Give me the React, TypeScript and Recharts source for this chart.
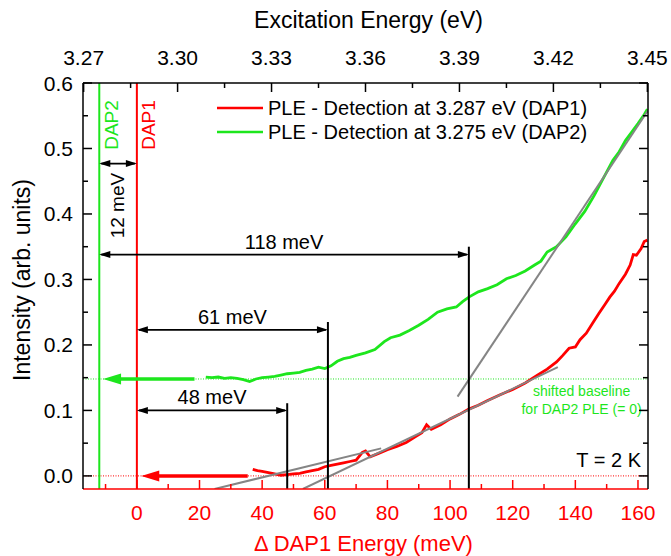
import React from 'react';
import {
  ComposedChart,
  Line,
  XAxis,
  YAxis,
  ReferenceLine,
  ReferenceDot,
  Legend,
} from 'recharts';

const RED = '#ff0000';
const GREEN = '#1de61d';
const GRAY = '#858585';
const FONT = '"Liberation Sans", Arial, sans-serif';

// detection energy of DAP1 (eV); bottom axis is the offset from it in meV
const DAP1_EV = 3.287;
const DAP2_OFFSET = -12;

const X_DOMAIN: [number, number] = [-17.2, 163.2];
const Y_DOMAIN: [number, number] = [-0.02, 0.6];
const TOP_DOMAIN: [number, number] = [DAP1_EV + X_DOMAIN[0] / 1000, DAP1_EV + X_DOMAIN[1] / 1000];

const X_TICKS = [-10, 0, 10, 20, 30, 40, 50, 60, 70, 80, 90, 100, 110, 120, 130, 140, 150, 160];
const TOP_TICKS = [3.27, 3.285, 3.3, 3.315, 3.33, 3.345, 3.36, 3.375, 3.39, 3.405, 3.42, 3.435, 3.45];
const Y_TICKS = [0, 0.05, 0.1, 0.15, 0.2, 0.25, 0.3, 0.35, 0.4, 0.45, 0.5, 0.55, 0.6];

// PLE detected at 3.287 eV (DAP1): e = meV, i = intensity
const dap1Ple = [
  { e: 37, i: 0.01 }, { e: 38.5, i: 0.008 }, { e: 40, i: 0.007 }, { e: 42, i: 0.005 },
  { e: 44, i: 0.003 }, { e: 46, i: 0.001 }, { e: 48, i: 0.002 }, { e: 50, i: 0.003 },
  { e: 52, i: 0.004 }, { e: 54, i: 0.006 }, { e: 56, i: 0.008 }, { e: 58, i: 0.01 },
  { e: 60, i: 0.014 }, { e: 62, i: 0.016 }, { e: 64, i: 0.018 }, { e: 66, i: 0.02 },
  { e: 68, i: 0.022 }, { e: 70, i: 0.024 }, { e: 72, i: 0.036 }, { e: 73, i: 0.038 },
  { e: 74.5, i: 0.029 }, { e: 77, i: 0.034 }, { e: 80, i: 0.04 }, { e: 83, i: 0.045 },
  { e: 86, i: 0.051 }, { e: 89, i: 0.06 }, { e: 91, i: 0.066 }, { e: 92.5, i: 0.078 },
  { e: 94, i: 0.071 }, { e: 97, i: 0.078 }, { e: 100, i: 0.087 }, { e: 103, i: 0.094 },
  { e: 106, i: 0.102 }, { e: 109, i: 0.108 }, { e: 112, i: 0.115 }, { e: 116, i: 0.124 },
  { e: 120, i: 0.132 }, { e: 124, i: 0.142 }, { e: 128, i: 0.154 }, { e: 131, i: 0.163 },
  { e: 134, i: 0.174 }, { e: 136, i: 0.184 }, { e: 138, i: 0.195 }, { e: 140, i: 0.197 },
  { e: 141.5, i: 0.208 }, { e: 143.5, i: 0.218 }, { e: 145.5, i: 0.233 }, { e: 147.5, i: 0.248 },
  { e: 149.5, i: 0.262 }, { e: 151, i: 0.273 }, { e: 152.5, i: 0.282 }, { e: 154, i: 0.294 },
  { e: 156, i: 0.308 }, { e: 157.5, i: 0.322 }, { e: 158.5, i: 0.338 }, { e: 159.5, i: 0.337 },
  { e: 161, i: 0.347 }, { e: 162, i: 0.358 }, { e: 163, i: 0.36 },
];

// PLE detected at 3.275 eV (DAP2), plotted on a baseline shifted to 0.148
const dap2Ple = [
  { e: 22, i: 0.151 }, { e: 24, i: 0.15 }, { e: 26, i: 0.151 }, { e: 28, i: 0.149 },
  { e: 30, i: 0.15 }, { e: 32, i: 0.149 }, { e: 34, i: 0.147 }, { e: 36, i: 0.144 },
  { e: 38, i: 0.148 }, { e: 40, i: 0.15 }, { e: 42, i: 0.151 }, { e: 44, i: 0.152 },
  { e: 46, i: 0.154 }, { e: 48, i: 0.156 }, { e: 50, i: 0.157 }, { e: 52, i: 0.158 },
  { e: 54, i: 0.161 }, { e: 56, i: 0.163 }, { e: 58, i: 0.166 }, { e: 60, i: 0.164 },
  { e: 62, i: 0.168 }, { e: 64, i: 0.175 }, { e: 66, i: 0.179 }, { e: 68, i: 0.181 },
  { e: 70, i: 0.184 }, { e: 73, i: 0.188 }, { e: 76, i: 0.193 }, { e: 79, i: 0.205 },
  { e: 81, i: 0.211 }, { e: 84, i: 0.215 }, { e: 87, i: 0.222 }, { e: 90, i: 0.23 },
  { e: 93, i: 0.239 }, { e: 96, i: 0.25 }, { e: 99, i: 0.255 }, { e: 102, i: 0.258 },
  { e: 104, i: 0.266 }, { e: 106, i: 0.273 }, { e: 109, i: 0.281 }, { e: 112, i: 0.286 },
  { e: 115, i: 0.292 }, { e: 118, i: 0.301 }, { e: 121, i: 0.306 }, { e: 124, i: 0.313 },
  { e: 127, i: 0.322 }, { e: 129, i: 0.328 }, { e: 131, i: 0.342 }, { e: 134, i: 0.35 },
  { e: 137, i: 0.365 }, { e: 140, i: 0.385 }, { e: 143, i: 0.404 }, { e: 146, i: 0.428 },
  { e: 149, i: 0.455 }, { e: 152, i: 0.482 }, { e: 154, i: 0.495 }, { e: 156, i: 0.512 },
  { e: 158, i: 0.525 }, { e: 160, i: 0.538 }, { e: 162, i: 0.552 }, { e: 163, i: 0.56 },
];

// linear onset fits
const fitDap1Low = [{ e: 24.8, i: -0.02 }, { e: 78, i: 0.042 }];
const fitDap1High = [{ e: 53, i: -0.02 }, { e: 134.4, i: 0.166 }];
const fitDap2 = [{ e: 102.4, i: 0.121 }, { e: 163.2, i: 0.558 }];

// end points of the excitation energy scale, so the top axis has something bound to it
const topAxisSpan = [{ ev: TOP_DOMAIN[0], i: null }, { ev: TOP_DOMAIN[1], i: null }];

const DAP2_BASELINE = 0.148;

const legendItems = [
  { label: 'PLE - Detection at 3.287 eV (DAP1)', color: RED },
  { label: 'PLE - Detection at 3.275 eV (DAP2)', color: GREEN },
];

// double-headed dimension arrows
const dimensions = [
  { from: DAP2_OFFSET, to: 0, y: 0.477, text: '12 meV', rotated: true },
  { from: DAP2_OFFSET, to: 106, y: 0.338, text: '118 meV', rotated: false },
  { from: 0, to: 61, y: 0.223, text: '61 meV', rotated: false },
  { from: 0, to: 48, y: 0.1, text: '48 meV', rotated: false },
];

// vertical onset markers
const markers = [
  { e: 48, top: 0.111 },
  { e: 61, top: 0.235 },
  { e: 106, top: 0.35 },
];

// baseline arrows pointing to the matching curve's zero
const baselineArrows = [
  { from: 18.4, to: -10.8, y: DAP2_BASELINE, color: GREEN },
  { from: 35.4, to: 1.4, y: 0, color: RED },
];

const BottomTick = (props: any) => {
  const { x, y, payload } = props;
  const v = payload.value;
  const major = v % 20 === 0;
  return (
    <g>
      <line x1={x} x2={x} y1={y} y2={y - (major ? 9 : 5)} stroke={RED} strokeWidth={1.5} />
      {major && v >= 0 && (
        <text x={x} y={y + 31} textAnchor="middle" fill={RED} fontSize={21} fontFamily={FONT}>
          {v}
        </text>
      )}
    </g>
  );
};

const TopTick = (props: any) => {
  const { x, y, payload } = props;
  const v = payload.value;
  const major = Math.round((v - 3.27) / 0.015) % 2 === 0;
  return (
    <g>
      <line x1={x} x2={x} y1={y} y2={y + (major ? 9 : 5)} stroke="#000" strokeWidth={1.5} />
      {major && (
        <text x={x} y={y - 18} textAnchor="middle" fill="#000" fontSize={21} fontFamily={FONT}>
          {v.toFixed(2)}
        </text>
      )}
    </g>
  );
};

const LeftTick = (props: any) => {
  const { x, y, payload } = props;
  const v = payload.value;
  const major = Math.round(v * 100) % 10 === 0;
  return (
    <g>
      <line x1={x} x2={x + (major ? 9 : 5)} y1={y} y2={y} stroke="#000" strokeWidth={1.5} />
      {major && (
        <text x={x - 10} y={y + 7.5} textAnchor="end" fill="#000" fontSize={21} fontFamily={FONT}>
          {v.toFixed(1)}
        </text>
      )}
    </g>
  );
};

const RightTick = (props: any) => {
  const { x, y, payload } = props;
  const major = Math.round(payload.value * 100) % 10 === 0;
  return <line x1={x} x2={x - (major ? 9 : 5)} y1={y} y2={y} stroke="#000" strokeWidth={1.5} />;
};

const dimensionShape = (text: string, rotated: boolean) => (p: any) => {
  const { x1, y1, x2 } = p;
  const left = Math.min(x1, x2);
  const right = Math.max(x1, x2);
  const L = 11;
  const H = 3.5;
  const mid = (left + right) / 2;
  return (
    <g>
      <line x1={left + 2} x2={right - 2} y1={y1} y2={y1} stroke="#000" strokeWidth={1.8} />
      <polygon points={`${left},${y1} ${left + L},${y1 - H} ${left + L},${y1 + H}`} fill="#000" />
      <polygon points={`${right},${y1} ${right - L},${y1 - H} ${right - L},${y1 + H}`} fill="#000" />
      {rotated ? (
        <text
          x={mid - 1}
          y={y1 + 42}
          transform={`rotate(-90 ${mid - 1} ${y1 + 42})`}
          textAnchor="middle"
          dominantBaseline="central"
          fontSize={19}
          fontFamily={FONT}
          fill="#000"
        >
          {text}
        </text>
      ) : (
        <text x={mid} y={y1 - 6} textAnchor="middle" fontSize={20} fontFamily={FONT} fill="#000">
          {text}
        </text>
      )}
    </g>
  );
};

const bigArrowShape = (color: string) => (p: any) => {
  const { x1, y1, x2 } = p;
  const L = 18;
  const H = 5.5;
  return (
    <g>
      <line x1={x1} x2={x2 + L - 2} y1={y1} y2={y1} stroke={color} strokeWidth={3.5} />
      <polygon points={`${x2},${y1} ${x2 + L},${y1 - H} ${x2 + L},${y1 + H}`} fill={color} />
    </g>
  );
};

const dapLineShape = (color: string, text: string) => (p: any) => {
  const { x1, y1, y2 } = p;
  const top = Math.min(y1, y2);
  const bottom = Math.max(y1, y2);
  const tx = x1 + 12;
  const ty = top + 42;
  return (
    <g>
      <line x1={x1} x2={x1} y1={top} y2={bottom} stroke={color} strokeWidth={2} />
      <text
        x={tx}
        y={ty}
        transform={`rotate(-90 ${tx} ${ty})`}
        textAnchor="middle"
        dominantBaseline="central"
        fontSize={19}
        fontFamily={FONT}
        fill={color}
      >
        {text}
      </text>
    </g>
  );
};

const renderLegend = () => (
  <div style={{ fontFamily: FONT, fontSize: 20, color: '#000' }}>
    {legendItems.map((item) => (
      <div key={item.label} style={{ display: 'flex', alignItems: 'center', height: 24 }}>
        <svg width={46} height={4}>
          <line x1={0} x2={46} y1={2} y2={2} stroke={item.color} strokeWidth={2.5} />
        </svg>
        <span style={{ marginLeft: 5, whiteSpace: 'nowrap' }}>{item.label}</span>
      </div>
    ))}
  </div>
);

export default function App() {
  return (
    <div style={{ position: 'absolute', left: 0, top: 0 }}>
      <ComposedChart width={671} height={556} margin={{ top: 0, right: 0, bottom: 0, left: 0 }}>
        <XAxis
          xAxisId="bottom"
          dataKey="e"
          type="number"
          domain={X_DOMAIN}
          ticks={X_TICKS}
          interval={0}
          allowDataOverflow
          height={67}
          tickSize={0}
          tickMargin={0}
          tickLine={false}
          tick={<BottomTick />}
          axisLine={{ stroke: RED, strokeWidth: 1.5 }}
          label={{
            content: ({ viewBox }: any) => (
              <text
                x={viewBox.x + viewBox.width / 2 - 2}
                y={viewBox.y + 62}
                textAnchor="middle"
                fill={RED}
                fontSize={22}
                fontFamily={FONT}
              >
                {'\u0394 DAP1 Energy (meV)'}
              </text>
            ),
          }}
        />
        <XAxis
          xAxisId="top"
          dataKey="ev"
          orientation="top"
          type="number"
          domain={TOP_DOMAIN}
          ticks={TOP_TICKS}
          interval={0}
          allowDataOverflow
          height={83}
          tickSize={0}
          tickMargin={0}
          tickLine={false}
          tick={<TopTick />}
          axisLine={{ stroke: '#000', strokeWidth: 1.5 }}
          label={{
            content: ({ viewBox }: any) => (
              <text
                x={viewBox.x + viewBox.width / 2 + 3}
                y={viewBox.y + 28}
                textAnchor="middle"
                fill="#000"
                fontSize={23}
                fontFamily={FONT}
              >
                Excitation Energy (eV)
              </text>
            ),
          }}
        />
        <YAxis
          yAxisId="left"
          type="number"
          domain={Y_DOMAIN}
          ticks={Y_TICKS}
          interval={0}
          allowDataOverflow
          width={83}
          tickSize={0}
          tickMargin={0}
          tickLine={false}
          tick={<LeftTick />}
          axisLine={{ stroke: '#000', strokeWidth: 1.5 }}
          label={{
            content: ({ viewBox }: any) => {
              const cx = viewBox.x + 22;
              const cy = viewBox.y + viewBox.height / 2 - 6;
              return (
                <text
                  x={cx}
                  y={cy}
                  transform={`rotate(-90 ${cx} ${cy})`}
                  textAnchor="middle"
                  dominantBaseline="central"
                  fill="#000"
                  fontSize={23}
                  fontFamily={FONT}
                >
                  Intensity (arb. units)
                </text>
              );
            },
          }}
        />
        <YAxis
          yAxisId="right"
          orientation="right"
          type="number"
          domain={Y_DOMAIN}
          ticks={Y_TICKS}
          interval={0}
          allowDataOverflow
          width={23}
          tickSize={0}
          tickMargin={0}
          tickLine={false}
          tick={<RightTick />}
          axisLine={{ stroke: '#000', strokeWidth: 1.5 }}
        />

        <Legend
          layout="vertical"
          align="center"
          verticalAlign="middle"
          content={renderLegend}
          wrapperStyle={{ left: 217, top: 96, width: 420, height: 48 }}
        />

        {/* dotted zero lines of both spectra */}
        <ReferenceLine xAxisId="bottom" yAxisId="left" y={0} stroke={RED} strokeWidth={1} strokeDasharray="1 1.5" />
        <ReferenceLine xAxisId="bottom" yAxisId="left" y={DAP2_BASELINE} stroke={GREEN} strokeWidth={1} strokeDasharray="1 1.5" />

        {/* detection energies */}
        <ReferenceLine xAxisId="bottom" yAxisId="left" x={DAP2_OFFSET} shape={dapLineShape(GREEN, 'DAP2')} />
        <ReferenceLine xAxisId="bottom" yAxisId="left" x={0} shape={dapLineShape(RED, 'DAP1')} />

        <Line
          data={topAxisSpan}
          dataKey="i"
          xAxisId="top"
          yAxisId="left"
          stroke="none"
          dot={false}
          legendType="none"
          isAnimationActive={false}
        />
        <Line
          data={dap1Ple}
          dataKey="i"
          name="PLE - Detection at 3.287 eV (DAP1)"
          xAxisId="bottom"
          yAxisId="left"
          stroke={RED}
          strokeWidth={2.8}
          dot={false}
          isAnimationActive={false}
        />
        <Line
          data={dap2Ple}
          dataKey="i"
          name="PLE - Detection at 3.275 eV (DAP2)"
          xAxisId="bottom"
          yAxisId="left"
          stroke={GREEN}
          strokeWidth={2.8}
          dot={false}
          isAnimationActive={false}
        />
        {[fitDap1Low, fitDap1High, fitDap2].map((fit, k) => (
          <Line
            key={`fit-${k}`}
            data={fit}
            dataKey="i"
            xAxisId="bottom"
            yAxisId="left"
            stroke={GRAY}
            strokeWidth={2}
            dot={false}
            legendType="none"
            isAnimationActive={false}
          />
        ))}

        {baselineArrows.map((a, k) => (
          <ReferenceLine
            key={`base-${k}`}
            xAxisId="bottom"
            yAxisId="left"
            segment={[{ x: a.from, y: a.y }, { x: a.to, y: a.y }]}
            shape={bigArrowShape(a.color)}
          />
        ))}

        {markers.map((m) => (
          <ReferenceLine
            key={`mark-${m.e}`}
            xAxisId="bottom"
            yAxisId="left"
            segment={[{ x: m.e, y: Y_DOMAIN[0] }, { x: m.e, y: m.top }]}
            stroke="#000"
            strokeWidth={2}
          />
        ))}

        {dimensions.map((d) => (
          <ReferenceLine
            key={d.text}
            xAxisId="bottom"
            yAxisId="left"
            segment={[{ x: d.from, y: d.y }, { x: d.to, y: d.y }]}
            shape={dimensionShape(d.text, d.rotated)}
          />
        ))}

        <ReferenceDot
          xAxisId="bottom"
          yAxisId="left"
          x={142}
          y={DAP2_BASELINE}
          r={0}
          shape={(p: any) => (
            <text textAnchor="middle" fill={GREEN} fontSize={14} fontFamily={FONT}>
              <tspan x={p.cx} y={p.cy + 17}>shifted baseline</tspan>
              <tspan x={p.cx} y={p.cy + 35}>for DAP2 PLE (= 0)</tspan>
            </text>
          )}
        />
        <ReferenceDot
          xAxisId="bottom"
          yAxisId="left"
          x={160}
          y={0}
          r={0}
          shape={(p: any) => (
            <text x={p.cx + 3} y={p.cy - 9} textAnchor="end" fill="#000" fontSize={20} fontFamily={FONT}>
              T = 2 K
            </text>
          )}
        />
      </ComposedChart>
    </div>
  );
}
